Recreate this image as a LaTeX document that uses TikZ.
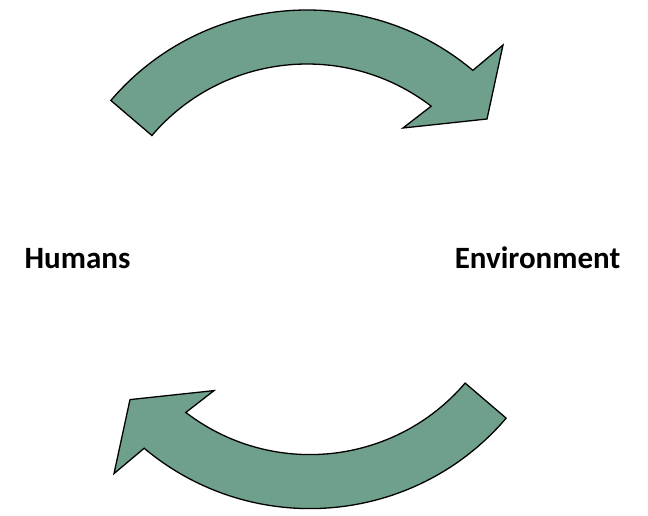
\documentclass[tikz,border=0pt]{standalone}
\usepackage{fontspec}
\setmainfont{Carlito}
\definecolor{cycleGreen}{RGB}{110,160,139}
\tikzset{>=latex}
\tikzset{sideText/.style={anchor=base,inner sep=0pt,font=\fontsize{31}{36}\selectfont\bfseries}}

\begin{document}
\begin{tikzpicture}[x=1pt,y=1pt]
  \useasboundingbox (0,0) rectangle (648,515);
  % limits
  \def\cx{307}  % centre of the arcs
  \def\cy{247}
  \def\ro{258}  % outer radius
  \def\ri{204}  % inner radius

  % help functions

        % Curved block arrow, turned by #1 degrees round the middle
  \def\cycleArrow(#1){
    \filldraw[fill=cycleGreen,draw=black,line width=1.3pt,line join=miter,
              rotate around={#1:(308.5,255.7)}]
      ([shift={(139.5:\ro)}]\cx,\cy) arc (139.5:50:\ro)
      -- (503,470) -- (487,396) -- (403,387)
      -- ([shift={(52.5:\ri)}]\cx,\cy) arc (52.5:139.5:\ri) -- cycle;
  }

  % ARROWS
    \cycleArrow(0)
    \cycleArrow(180)

  % LABELS
    \node[sideText] (humans) at (77.5,246.5) {Humans};
    \node[sideText] (environment) at (537.5,246.5) {Environment};

\end{tikzpicture}
\end{document}
